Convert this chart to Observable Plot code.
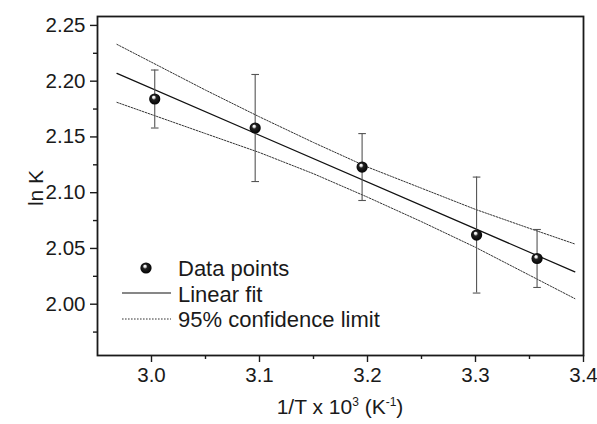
<!DOCTYPE html>
<html>
<head>
<meta charset="utf-8">
<script src="https://cdn.jsdelivr.net/npm/d3@7"></script>
<script src="https://cdn.jsdelivr.net/npm/@observablehq/plot@0.6"></script>
<style>
  html, body { margin: 0; padding: 0; background: #fff; }
  #chart svg { display: block; }
</style>
</head>
<body>
<div id="chart"></div>
<script>
// ---- data ----
const pointX = [3.003, 3.096, 3.195, 3.301, 3.357];
const pointY = [2.184, 2.158, 2.123, 2.062, 2.041];
const pointErr = [0.026, 0.048, 0.030, 0.052, 0.026];

const fitX = [2.968, 3.392];
const fitY = [2.207, 2.029];

const ciX = [2.968, 3.05, 3.1, 3.15, 3.2, 3.25, 3.3, 3.35, 3.392];
const ciUpper = [2.233, 2.192, 2.168, 2.145, 2.123, 2.104, 2.085, 2.068, 2.054];
const ciLower = [2.181, 2.153, 2.136, 2.117, 2.096, 2.074, 2.051, 2.026, 2.005];

const xTicks = [3.0, 3.1, 3.2, 3.3, 3.4];
const xMinor = [3.05, 3.15, 3.25, 3.35];
const yTicks = [2.00, 2.05, 2.10, 2.15, 2.20, 2.25];
const yMinor = [1.975, 2.025, 2.075, 2.125, 2.175, 2.225];

const legendLabels = ["Data points", "Linear fit", "95% confidence limit"];
const yTitle = "ln K";

// ---- tables ----
const points = pointX.map((x, i) => ({x, y: pointY[i], lo: pointY[i] - pointErr[i], hi: pointY[i] + pointErr[i]}));
const fit = fitX.map((x, i) => ({x, y: fitY[i]}));
const upper = ciX.map((x, i) => ({x, y: ciUpper[i]}));
const lower = ciX.map((x, i) => ({x, y: ciLower[i]}));

const FONT = "Liberation Sans, Arial, Helvetica, sans-serif";
const INK = "#1a1a1a";

// horizontal cap symbol for error bars
const capSymbol = {
  draw(context, size) {
    const r = Math.sqrt(size / Math.PI);
    context.moveTo(-r, 0);
    context.lineTo(r, 0);
  }
};

const plot = Plot.plot({
  width: 597,
  height: 424,
  marginLeft: 97,
  marginRight: 14,
  marginTop: 16,
  marginBottom: 69,
  style: {fontFamily: FONT, fontSize: "20px", color: INK, background: "#fff"},
  x: {domain: [2.95, 3.4]},
  y: {domain: [1.954, 2.258]},
  marks: [
    // confidence limits
    Plot.line(upper, {x: "x", y: "y", stroke: "#333", strokeWidth: 1, strokeDasharray: "1.6,1.4"}),
    Plot.line(lower, {x: "x", y: "y", stroke: "#333", strokeWidth: 1, strokeDasharray: "1.6,1.4"}),
    // linear fit
    Plot.line(fit, {x: "x", y: "y", stroke: "#111", strokeWidth: 1.2}),
    // error bars
    Plot.ruleX(points, {x: "x", y1: "lo", y2: "hi", stroke: "#555", strokeWidth: 1.1}),
    Plot.dot(points, {x: "x", y: "lo", symbol: capSymbol, r: 3.8, stroke: "#555", strokeWidth: 1.1, fill: "none"}),
    Plot.dot(points, {x: "x", y: "hi", symbol: capSymbol, r: 3.8, stroke: "#555", strokeWidth: 1.1, fill: "none"}),
    // data points (shaded balls)
    Plot.dot(points, {x: "x", y: "y", r: 5.6, fill: "url(#ballGrad)", stroke: "none"}),
    // axes
    Plot.axisX({ticks: xTicks, tickFormat: d3.format(".1f"), tickSize: 7, tickPadding: 5, label: null, stroke: INK, strokeWidth: 1.4, fill: INK, fontSize: 20.5}),
    Plot.axisX({ticks: xMinor, tickFormat: () => "", tickSize: 4, label: null, stroke: INK, strokeWidth: 1.4}),
    Plot.axisY({ticks: yTicks, tickFormat: d3.format(".2f"), tickSize: 7, tickPadding: 5, label: null, stroke: INK, strokeWidth: 1.4, fill: INK, fontSize: 20.5}),
    Plot.axisY({ticks: yMinor, tickFormat: () => "", tickSize: 4, label: null, stroke: INK, strokeWidth: 1.4}),
    Plot.frame({stroke: INK, strokeWidth: 1.8})
  ]
});

document.getElementById("chart").appendChild(plot);

// ---- defs: ball gradient ----
const svg = d3.select(plot);
const defs = svg.insert("defs", ":first-child");
const grad = defs.append("radialGradient")
  .attr("id", "ballGrad")
  .attr("cx", "50%").attr("cy", "50%").attr("r", "55%")
  .attr("fx", "38%").attr("fy", "30%");
grad.append("stop").attr("offset", "0%").attr("stop-color", "#ffffff");
grad.append("stop").attr("offset", "18%").attr("stop-color", "#e8e8e8");
grad.append("stop").attr("offset", "38%").attr("stop-color", "#222");
grad.append("stop").attr("offset", "100%").attr("stop-color", "#000");

// ---- axis titles ----
const xTitle = svg.append("text")
  .attr("x", 340).attr("y", 414)
  .attr("text-anchor", "middle")
  .attr("font-family", FONT).attr("font-size", 21).attr("fill", INK);
xTitle.append("tspan").text("1/T x 10");
xTitle.append("tspan").attr("font-size", 12).attr("dy", -8).text("3");
xTitle.append("tspan").attr("dy", 8).text(" (K");
xTitle.append("tspan").attr("font-size", 12).attr("dy", -8).text("-1");
xTitle.append("tspan").attr("dy", 8).text(")");

svg.append("text")
  .attr("transform", "translate(43,188) rotate(-90)")
  .attr("text-anchor", "middle")
  .attr("font-family", FONT).attr("font-size", 21).attr("fill", INK)
  .text(yTitle);

// ---- legend ----
const lg = svg.append("g").attr("font-family", FONT).attr("font-size", 22).attr("fill", INK).attr("text-anchor", "start");
lg.append("circle").attr("cx", 146).attr("cy", 268).attr("r", 5.6).attr("fill", "url(#ballGrad)");
lg.append("line").attr("x1", 122).attr("x2", 171).attr("y1", 293).attr("y2", 293)
  .attr("stroke", "#111").attr("stroke-width", 1.2);
lg.append("line").attr("x1", 122).attr("x2", 171).attr("y1", 319).attr("y2", 319)
  .attr("stroke", "#333").attr("stroke-width", 1).attr("stroke-dasharray", "1.6,1.4");
legendLabels.forEach((t, i) => {
  lg.append("text").attr("x", 178).attr("y", 268 + i * 25.7).attr("dy", "0.36em").attr("text-anchor", "start").text(t);
});
</script>
</body>
</html>
